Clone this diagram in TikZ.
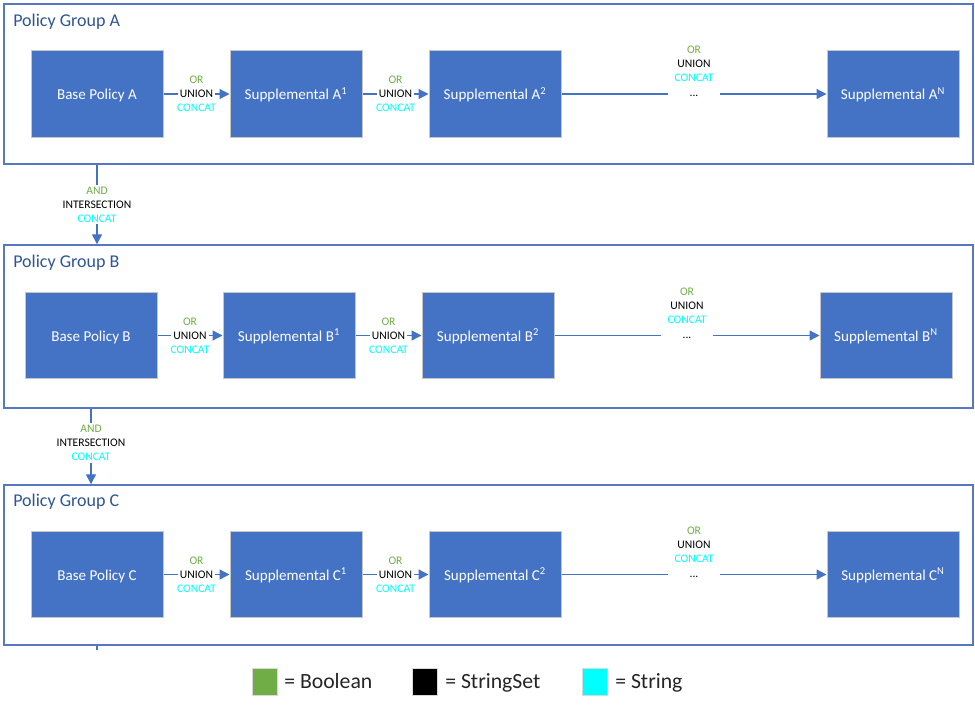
\documentclass[tikz,border=0pt]{standalone}
\usepackage{fontspec}
\setmainfont{Carlito}
\usetikzlibrary{arrows.meta,fit,calc}
\definecolor{boxblue}{HTML}{4472C4}
\definecolor{grpblue}{HTML}{5677C2}
\definecolor{titleblue}{HTML}{2F5597}
\definecolor{okgreen}{HTML}{70AD47}
\definecolor{cyanT}{HTML}{00FFFF}
\newcommand\shortop[3]{%
  \draw[conn] (#1) -- (#2) node[midway, lbl, fill=white] (#3u) {UNION};
  \node[lbl, text=okgreen] (#3o) at ($(#3u)+(0,-14)$) {OR};
  \node[lbl, text=cyanT] (#3c) at ($(#3u)+(0,14)$) {CONCAT};}
\newcommand\longop[3]{%
  \draw[conn] (#1) -- (#2) node[midway, lbl, fill=white, minimum width=39pt] (#3d) {\strut...};
  \node[lbl, text=okgreen] (#3o) at ($(#3d)+(0,-44)$) {OR};
  \node[lbl] (#3u) at ($(#3d)+(0,-30)$) {UNION};
  \node[lbl, text=cyanT] (#3c) at ($(#3d)+(0,-16)$) {CONCAT};}
\begin{document}
\begin{tikzpicture}[x=0.75pt,y=-0.75pt,
  pbox/.style={fill=boxblue, draw=gray!45, line width=0.75pt, minimum width=99pt, minimum height=65pt, text=white, font=\fontsize{11.3}{13}\selectfont, text height=0.84em, text depth=0pt, inner sep=0pt},
  group/.style={draw=grpblue, line width=1.1pt, inner sep=0pt},
  grptitle/.style={anchor=base west, text=titleblue, font=\fontsize{13.5}{16}\selectfont, inner sep=0pt},
  conn/.style={draw=boxblue, line width=1pt, -{Triangle[length=7.5pt,width=7.5pt]}},
  lbl/.style={font=\fontsize{8.7}{10.5}\selectfont, inner sep=1.5pt},
  legsq/.style={draw=gray!30, line width=0.75pt, minimum width=18.75pt, minimum height=20.25pt, inner sep=0pt},
  legtxt/.style={anchor=base west, font=\fontsize{16.3}{19}\selectfont, text=black!85, inner sep=0pt}]
\useasboundingbox (0,0) rectangle (975,708);
\fill[white] (0,0) rectangle (975,708);

% groups
\node[group, fit={(4,4) (973,164)}] (gA) {};
\node[group, fit={(4,245) (973,408)}] (gB) {};
\node[group, fit={(4,485) (973,645)}] (gC) {};
\node[grptitle] (tA) at (13,26) {Policy Group A};
\node[grptitle] (tB) at (13,267) {Policy Group B};
\node[grptitle] (tC) at (13,506) {Policy Group C};

% row A
\node[pbox] (bA) at (97,94) {Base Policy A};
\node[pbox] (sA1) at (296,94) {Supplemental A\textsuperscript{1}};
\node[pbox] (sA2) at (495,94) {Supplemental A\textsuperscript{2}};
\node[pbox] (sAN) at (893,94) {Supplemental A\textsuperscript{N}};
\shortop{bA}{sA1}{oA1}
\shortop{sA1}{sA2}{oA2}
\longop{sA2}{sAN}{oAN}

% row B
\node[pbox] (bB) at (91,335.5) {Base Policy B};
\node[pbox] (sB1) at (289,335.5) {Supplemental B\textsuperscript{1}};
\node[pbox] (sB2) at (488,335.5) {Supplemental B\textsuperscript{2}};
\node[pbox] (sBN) at (886,335.5) {Supplemental B\textsuperscript{N}};
\shortop{bB}{sB1}{oB1}
\shortop{sB1}{sB2}{oB2}
\longop{sB2}{sBN}{oBN}

% row C
\node[pbox] (bC) at (97,574.5) {Base Policy C};
\node[pbox] (sC1) at (296,574.5) {Supplemental C\textsuperscript{1}};
\node[pbox] (sC2) at (495,574.5) {Supplemental C\textsuperscript{2}};
\node[pbox] (sCN) at (893,574.5) {Supplemental C\textsuperscript{N}};
\shortop{bC}{sC1}{oC1}
\shortop{sC1}{sC2}{oC2}
\longop{sC2}{sCN}{oCN}

% vertical connectors
\draw[conn] (bA |- gA.south) -- (bA |- gB.north)
  node[midway, lbl, fill=white, align=center] (vAB) {\textcolor{okgreen}{AND}\\INTERSECTION\\\textcolor{cyanT}{CONCAT}};
\draw[conn] (bB |- gB.south) -- (bB |- gC.north)
  node[pos=0.455, lbl, fill=white, align=center] (vBC) {\textcolor{okgreen}{AND}\\INTERSECTION\\\textcolor{cyanT}{CONCAT}};
\coordinate (stub) at ($(bC |- gC.south)+(0,4)$);
\draw[draw=boxblue, line width=1pt] (bC |- gC.south) -- (stub);

% legend
\node[legsq, fill=okgreen] (lgB) at (264.5,681.5) {};
\node[legtxt] (ltB) at (284,688) {= Boolean};
\node[legsq, fill=black] (lgS) at (424.5,681.5) {};
\node[legtxt] (ltS) at (445,688) {= StringSet};
\node[legsq, fill=cyanT] (lgT) at (594.5,681.5) {};
\node[legtxt] (ltT) at (615,688) {= String};
\end{tikzpicture}
\end{document}
